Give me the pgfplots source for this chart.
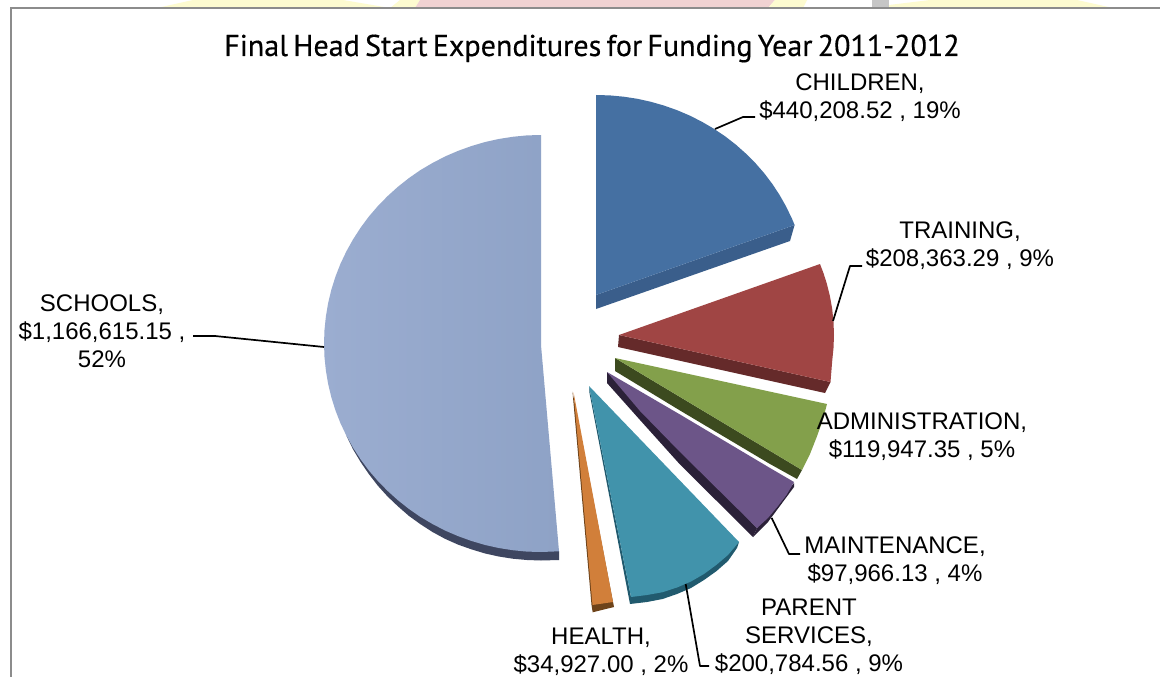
\documentclass[border=0pt]{standalone}
\usepackage{fontspec}
\setmainfont{Liberation Sans}
\newfontfamily\titlefont[FakeBold=0.35,WordSpace=0.65]{PT Sans}
\usepackage{pgfplots}
\pgfplotsset{compat=1.18}
\definecolor{cblue}{HTML}{4570A2}\definecolor{cblueS}{HTML}{3A5E8B}
\definecolor{cred}{HTML}{A04544}\definecolor{credS}{HTML}{652A2A}
\definecolor{cgreen}{HTML}{83A04B}\definecolor{cgreenS}{HTML}{3C4A1F}
\definecolor{cpurple}{HTML}{6C5588}\definecolor{cpurpleS}{HTML}{2B2138}
\definecolor{cteal}{HTML}{4193AB}\definecolor{ctealS}{HTML}{215A6E}
\definecolor{corange}{HTML}{D17F3A}\definecolor{corangeS}{HTML}{6E431A}
\definecolor{cschoolL}{HTML}{9BADD0}\definecolor{cschoolR}{HTML}{8EA2C6}
\definecolor{cschoolS}{HTML}{3E4660}
\definecolor{bgyellow}{HTML}{FDFBD0}\definecolor{bgpink}{HTML}{F0D2D2}
\tikzset{
  face/.style={draw=none,fill=#1},
  leader/.style={draw=black,line width=1.7pt,line join=round},
  lab/.style={font=\fontsize{24}{28}\selectfont,align=center,text=black,anchor=center,inner sep=0pt},
}
\begin{document}
\begin{tikzpicture}
\begin{axis}[
  at={(0,0)},anchor=south west,
  scale only axis,width=1160pt,height=677pt,
  xmin=0,xmax=1160,ymin=0,ymax=677,y dir=reverse,
  axis lines=none,clip=true,
  every axis plot/.append style={mark=none},
]
% page
\addplot[face=white] coordinates {(0,0)(1160,0)(1160,677)(0,677)} --cycle;
% background picture peeking over the frame
\addplot[face=bgyellow] coordinates {(157,8)(193,0)(343,0)(390,8)} --cycle;
\addplot[face=bgyellow] coordinates {(390,8)(400,0)(420,0)(415,8)} --cycle;
\addplot[face=bgpink] coordinates {(415,8)(420,0)(775,0)(768,8)} --cycle;
\addplot[face=bgyellow] coordinates {(768,8)(775,0)(807,0)(803,8)} --cycle;
\addplot[face=gray!45] coordinates {(872,0)(889,0)(889,8)(872,8)} --cycle;
\addplot[face=bgyellow] coordinates {(889,8)(889,5)(930,0)(1077,0)(1113,8)} --cycle;
% frame
\addplot[draw=black!45,line width=2pt] coordinates {(1160,8.5)(11,8.5)(11,677)};
% SCHOOLS $1,166,615.15
\addplot[face=cschoolS] coordinates {(346.4,435.7)(353.1,449.5)(360.6,462)(368.8,474)(377.9,485.8)(387.6,496.5)(397.9,506.3)(408.9,515.9)(420.4,524.2)(432.5,532)(445,538.8)(458,544.6)(471.3,549.3)(484.8,553.4)(498.7,556.5)(512.7,558.7)(526.8,560)(541,560.5)(559,560)(559,551.3)(500,500)} --cycle;
\addplot[draw=none,left color=cschoolL,right color=cschoolR] coordinates {(541,135)(526.8,135.4)(512.7,136.8)(498.7,139)(484.8,142.1)(471.3,146.1)(458,150.9)(445,156.5)(432.5,163)(420.4,170.1)(408.9,178.1)(397.9,186.8)(387.6,196.1)(377.9,206)(368.8,216.6)(360.6,227.7)(353.1,239.3)(346.4,251.3)(340.5,263.7)(335.5,276.5)(331.4,289.5)(328.2,302.8)(325.9,316.3)(324.5,329.9)(324,343.5)(324.5,357.1)(325.9,370.7)(328.2,384.2)(331.4,397.5)(335.5,410.5)(340.5,423.3)(346.4,435.7)(353.1,447.8)(360.6,459.3)(368.8,470.4)(377.9,481)(387.6,490.9)(397.9,500.2)(408.9,508.9)(420.4,516.9)(432.5,524)(445,530.5)(458,536.1)(471.3,540.9)(484.8,544.9)(498.7,548)(512.7,550.2)(526.8,551.6)(541,552)(559,551.3)(541,345)} --cycle;
% CHILDREN $440,208.52
\addplot[face=cblueS] coordinates {(596,295)(794.6,225)(790,241)(596,309)} --cycle;
\addplot[face=cblue] coordinates {(596,295)(596,95)(609.9,95.4)(623.7,96.7)(637.4,98.8)(650.9,101.8)(664.1,105.6)(677.1,110.2)(689.8,115.6)(702,121.8)(713.8,128.7)(725.1,136.3)(735.8,144.6)(745.9,153.6)(755.4,163.1)(764.2,173.2)(772.3,183.9)(779.6,195)(786.1,206.5)(791.9,218.5)(794.6,225)} --cycle;
% TRAINING $208,363.29
\addplot[face=credS] coordinates {(619,335)(830.5,382)(825,393)(618,347)} --cycle;
\addplot[face=cred] coordinates {(619,335)(820,264)(823.5,273.2)(826.7,283.2)(829.9,296)(832.2,308.9)(833.5,321.9)(834,335)(833.5,348.1)(832.2,361.1)(830.5,382)} --cycle;
% ADMINISTRATION $119,947.35
\addplot[face=cgreenS] coordinates {(615,358)(802,470)(797,479)(770,464)(680,410.5)(615,371)} --cycle;
\addplot[face=cgreen] coordinates {(615,358)(827,404)(822.5,421)(816.7,437)(810,454)(802,470)} --cycle;
% MAINTENANCE $97,966.13
\addplot[face=cpurpleS] coordinates {(607,372)(757,528)(753,537)(680,464.5)(640,420)(607,383)} --cycle;
\addplot[face=cpurpleS] coordinates {(794,483)(757,528)(753,537)(768,522)(794,487)} --cycle;
\addplot[face=cpurple] coordinates {(607,372)(680,414.5)(770,468)(794,482)(786.5,495)(778,506)(768,518)(757,528)(680,452)(640,411)} --cycle;
% PARENT SERVICES $200,784.56
\addplot[face=ctealS] coordinates {(589,386)(589.5,393)(630,604)(647,602)(662.6,599)(677,594)(691,588)(704,580)(716.6,571)(728,561)(737,548)(739,542)(631,597)} --cycle;
\addplot[face=cteal] coordinates {(589,386)(739,542)(728,555)(716.6,564.7)(704,574)(691,581.5)(677,587.5)(662.6,592.2)(647,595)(631,597)} --cycle;
% HEALTH $34,927.00
\addplot[face=corangeS] coordinates {(572.5,391.7)(591.5,605)(592.7,612.3)(614,607)(613,602)} --cycle;
\addplot[face=corange] coordinates {(573.5,392)(592.5,605)(613,602)} --cycle;
% leaders
\addplot[leader] coordinates {(715,129)(743,117)(755,117)};
\addplot[leader] coordinates {(833,321)(850,266)(862,266)};
\addplot[leader] coordinates {(193,336)(215,336)(324,347)};
\addplot[leader] coordinates {(771.7,518)(789,554)(800,554)};
\addplot[leader] coordinates {(685.7,584)(700,666)(709,666)};
% labels
\node[font=\titlefont\fontsize{30.1}{32}\selectfont,anchor=base,inner sep=0pt,text=black] at (axis cs:592,56) {Final Head Start Expenditures for Funding Year 2011-2012};
\node[lab] at (axis cs:860,98) {CHILDREN,\\\$440,208.52 , 19\%};
\node[lab] at (axis cs:960,246) {TRAINING,\\\$208,363.29 , 9\%};
\node[lab] at (axis cs:102,331) {SCHOOLS,\\\$1,166,615.15 ,\\52\%};
\node[lab] at (axis cs:922,437) {ADMINISTRATION,\\\$119,947.35 , 5\%};
\node[lab] at (axis cs:895,561) {MAINTENANCE,\\\$97,966.13 , 4\%};
\node[lab] at (axis cs:809,637) {PARENT\\SERVICES,\\\$200,784.56 , 9\%};
\node[lab] at (axis cs:601,652) {HEALTH,\\\$34,927.00 , 2\%};
\end{axis}
\end{tikzpicture}
\end{document}
